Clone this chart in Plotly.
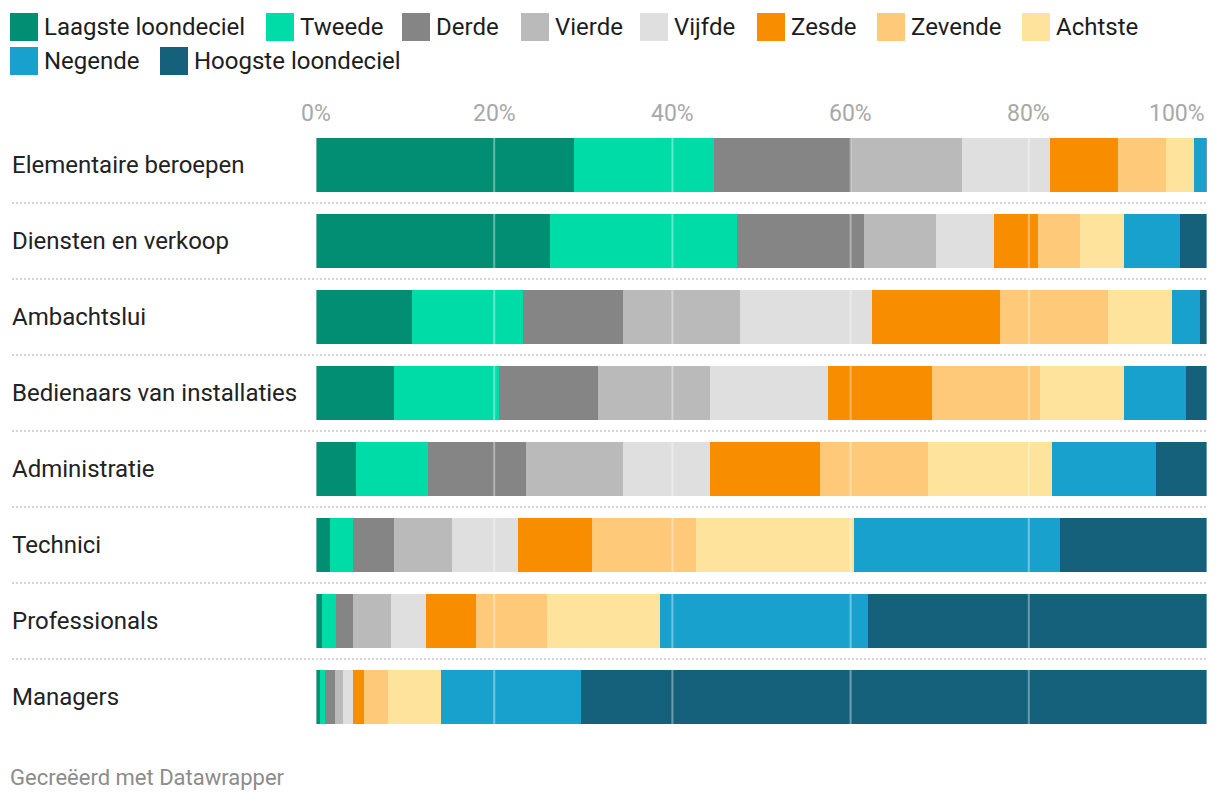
import plotly.graph_objects as go

categories = ["Elementaire beroepen", "Diensten en verkoop", "Ambachtslui",
              "Bedienaars van installaties", "Administratie", "Technici",
              "Professionals", "Managers"]

series_names = ["Laagste loondeciel", "Tweede", "Derde", "Vierde", "Vijfde",
                "Zesde", "Zevende", "Achtste", "Negende", "Hoogste loondeciel"]

laagste  = [29.0, 26.3, 10.8, 8.8, 4.5, 1.6, 0.7, 0.5]
tweede   = [15.7, 20.9, 12.4, 11.7, 8.1, 2.5, 1.6, 0.5]
derde    = [15.3, 14.3, 11.2, 11.2, 11.0, 4.7, 1.8, 1.1]
vierde   = [12.5, 8.1, 13.2, 12.5, 10.8, 6.5, 4.3, 0.9]
vijfde   = [9.9, 6.5, 14.8, 13.3, 9.8, 7.4, 4.0, 1.1]
zesde    = [7.6, 4.9, 14.4, 11.6, 12.4, 8.3, 5.6, 1.3]
zevende  = [5.4, 4.8, 12.1, 12.2, 12.1, 11.7, 7.9, 2.7]
achtste  = [3.1, 4.9, 7.2, 9.4, 13.9, 17.7, 12.7, 5.9]
negende  = [1.4, 6.3, 3.1, 6.9, 11.7, 23.1, 23.4, 15.7]
hoogste  = [0.1, 3.0, 0.8, 2.4, 5.7, 16.5, 38.0, 70.3]

series_values = [laagste, tweede, derde, vierde, vijfde, zesde, zevende,
                 achtste, negende, hoogste]

colors = ["#018e72", "#00dca8", "#858585", "#bababa", "#dfdfdf",
          "#f98d00", "#fec979", "#fee39c", "#18a1cd", "#15607a"]

tick_vals = [0, 20, 40, 60, 80, 100]
tick_text = ["0%", "20%", "40%", "60%", "80%", "100%"]

FONT = "Roboto"
OFF = 8  # page body margin
W, H = 1220 - OFF, 802 - OFF
ML, MR, MT, MB = 316 - OFF, 13, 127 - OFF, 67
PW = W - ML - MR
PH = H - MT - MB


def px_x(px):
    return (px - OFF - ML) / PW


def px_y(py):
    return (H - MB - (py - OFF)) / PH


fig = go.Figure()
for name, vals, col in zip(series_names, series_values, colors):
    fig.add_trace(go.Bar(
        y=categories, x=vals, name=name, orientation="h",
        marker=dict(color=col, line=dict(width=0)),
        showlegend=False,
        hovertemplate="%{y}<br>" + name + ": %{x:.1f}%<extra></extra>",
    ))

shapes = []
annotations = []

# gridlines above bars
for v in tick_vals:
    shapes.append(dict(type="line", xref="x", yref="paper", x0=v, x1=v,
                       y0=0, y1=1, layer="above",
                       line=dict(color="rgba(255,255,255,0.38)", width=2)))

# tick labels on top
for v, t in zip(tick_vals, tick_text):
    annotations.append(dict(
        x=v, y=px_y(113), xref="x", yref="paper", text=t, showarrow=False,
        xanchor="right" if v == 100 else "center", yanchor="middle",
        font=dict(family=FONT, size=23, color="#a8a8a8")))

# category labels, left aligned
for c in categories:
    annotations.append(dict(
        x=px_x(10), y=c, xref="paper", yref="y", text=c, showarrow=False,
        xanchor="left", yanchor="middle",
        font=dict(family=FONT, size=24, color="#222222")))

# dotted separators between rows
for i in range(len(categories) - 1):
    shapes.append(dict(type="line", xref="paper", yref="y",
                       x0=px_x(12), x1=1, y0=i + 0.5, y1=i + 0.5,
                       layer="below",
                       line=dict(color="#d4d4d4", width=2, dash="2px,2px")))

# custom legend
legend_pos = [(10, 0), (266, 0), (402, 0), (521, 0), (640, 0), (757, 0),
              (877, 0), (1022, 0), (10, 1), (160, 1)]
for (lx, row), name, col in zip(legend_pos, series_names, colors):
    top = 13 + row * 34
    shapes.append(dict(type="rect", xref="paper", yref="paper",
                       x0=px_x(lx), x1=px_x(lx + 28),
                       y0=px_y(top + 28), y1=px_y(top),
                       fillcolor=col, line=dict(width=0)))
    annotations.append(dict(
        x=px_x(lx + 32), y=px_y(top + 14), xref="paper", yref="paper",
        text=name, showarrow=False, xanchor="left", yanchor="middle",
        font=dict(family=FONT, size=24, color="#1d1d1d")))

# footer
annotations.append(dict(
    x=px_x(8), y=px_y(777), xref="paper", yref="paper",
    text="Gecreëerd met Datawrapper", showarrow=False,
    xanchor="left", yanchor="middle",
    font=dict(family=FONT, size=22, color="#8c8c8c")))

fig.update_layout(
    width=W, height=H,
    margin=dict(l=ML, r=MR, t=MT, b=MB, pad=0),
    barmode="stack", bargap=0.29,
    paper_bgcolor="white", plot_bgcolor="white",
    font=dict(family=FONT),
    xaxis=dict(range=[0, 100], showgrid=False, zeroline=False,
               showticklabels=False, fixedrange=True),
    yaxis=dict(categoryorder="array", categoryarray=categories,
               autorange="reversed", showgrid=False, zeroline=False,
               showticklabels=False, fixedrange=True),
    shapes=shapes, annotations=annotations,
)

fig.write_html("out.html")
